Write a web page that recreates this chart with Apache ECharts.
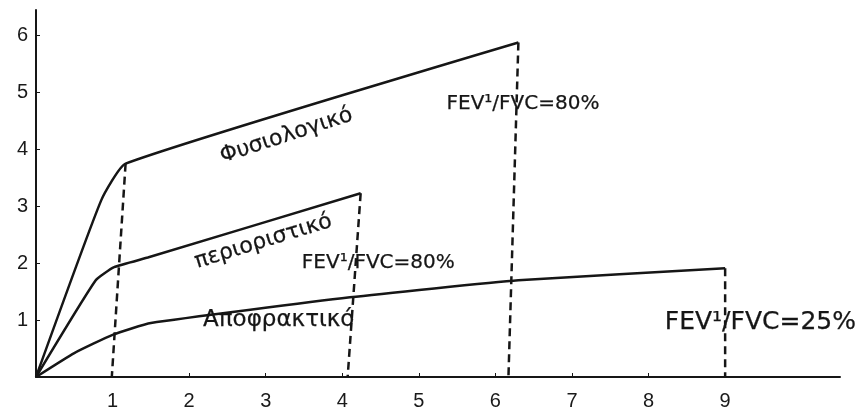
<!DOCTYPE html>
<html>
<head>
<meta charset="utf-8">
<script src="https://cdn.jsdelivr.net/npm/echarts@6/dist/echarts.min.js"></script>
<style>
  html, body { margin: 0; padding: 0; background: #fff; }
  #chart { width: 866px; height: 418px; }
</style>
</head>
<body>
<div id="chart"></div>
<script>
// tick labels
const xTicks = [1, 2, 3, 4, 5, 6, 7, 8, 9];
const yTicks = [1, 2, 3, 4, 5, 6];

// curves (time s, volume L)
const physiological = [[0, 0], [0.85, 3.1], [1.17, 3.75], [6.3, 5.88]];
const restrictive = [[0, 0], [0.78, 1.7], [1.02, 1.93], [1.46, 2.1], [4.24, 3.23]];
const obstructive = [[0, 0], [0.5, 0.42], [1.0, 0.74], [1.5, 0.95], [4.1, 1.4], [6.3, 1.7], [9.0, 1.91]];

// dashed drop lines
const physKneeDrop = [[1.17, 3.75], [0.99, 0]];
const physEndDrop = [[6.3, 5.88], [6.17, 0]];
const restrEndDrop = [[4.24, 3.23], [4.07, 0]];
const obstrEndDrop = [[9.0, 1.91], [9.0, 0]];

// annotations: [x, y, text, rotate, fontSize]
const notes = [
  [3.27, 4.24, 'Φυσιολογικό', 18, 22],
  [2.97, 2.38, 'περιοριστικό', 17, 22],
  [3.17, 1.0, 'Αποφρακτικό', 0, 23],
  [6.36, 4.8, 'FEV¹/FVC=80%', 0, 20],
  [4.47, 2.0, 'FEV¹/FVC=80%', 0, 20],
  [9.46, 0.95, 'FEV¹/FVC=25%', 0, 25]
];

const ink = '#161616';

function solid(data) {
  return {
    type: 'line', data: data, symbol: 'none', smooth: 0.15,
    lineStyle: { color: ink, width: 2.5 }, silent: true
  };
}
function dashed(data) {
  return {
    type: 'line', data: data, symbol: 'none',
    lineStyle: { color: ink, width: 2.5, type: [8, 5] }, silent: true
  };
}

let chart = echarts.init(document.getElementById('chart'));
chart.setOption({
  backgroundColor: '#fff',
  animation: false,
  grid: { left: 36, right: 26, top: 10, bottom: 41 },
  xAxis: {
    type: 'value', min: 0, max: 10.5,
    axisLine: { lineStyle: { color: ink, width: 2 } },
    axisTick: { show: true, inside: true, length: 4, customValues: xTicks, lineStyle: { color: ink } },
    axisLabel: { customValues: xTicks, color: '#1a1a1a', fontSize: 20, margin: 14, fontFamily: 'Liberation Sans' },
    splitLine: { show: false }
  },
  yAxis: {
    type: 'value', min: 0, max: 6.45,
    axisLine: { show: true, lineStyle: { color: ink, width: 2 } },
    axisTick: { show: true, inside: true, length: 4, customValues: yTicks, lineStyle: { color: ink } },
    axisLabel: { customValues: yTicks, color: '#1a1a1a', fontSize: 20, margin: 8, fontFamily: 'Liberation Sans' },
    splitLine: { show: false }
  },
  series: [
    solid(physiological),
    solid(restrictive),
    solid(obstructive),
    dashed(physKneeDrop),
    dashed(physEndDrop),
    dashed(restrEndDrop),
    dashed(obstrEndDrop),
    {
      type: 'scatter', symbolSize: 0, silent: true,
      itemStyle: { opacity: 1 },
      data: notes.map(n => ({
        value: [n[0], n[1]],
        label: {
          show: true, position: 'inside', formatter: n[2], rotate: n[3],
          fontSize: n[4], color: ink, opacity: 1, fontFamily: 'DejaVu Sans',
          textBorderColor: ink, textBorderWidth: 0.25
        }
      }))
    }
  ]
});
</script>
</body>
</html>
